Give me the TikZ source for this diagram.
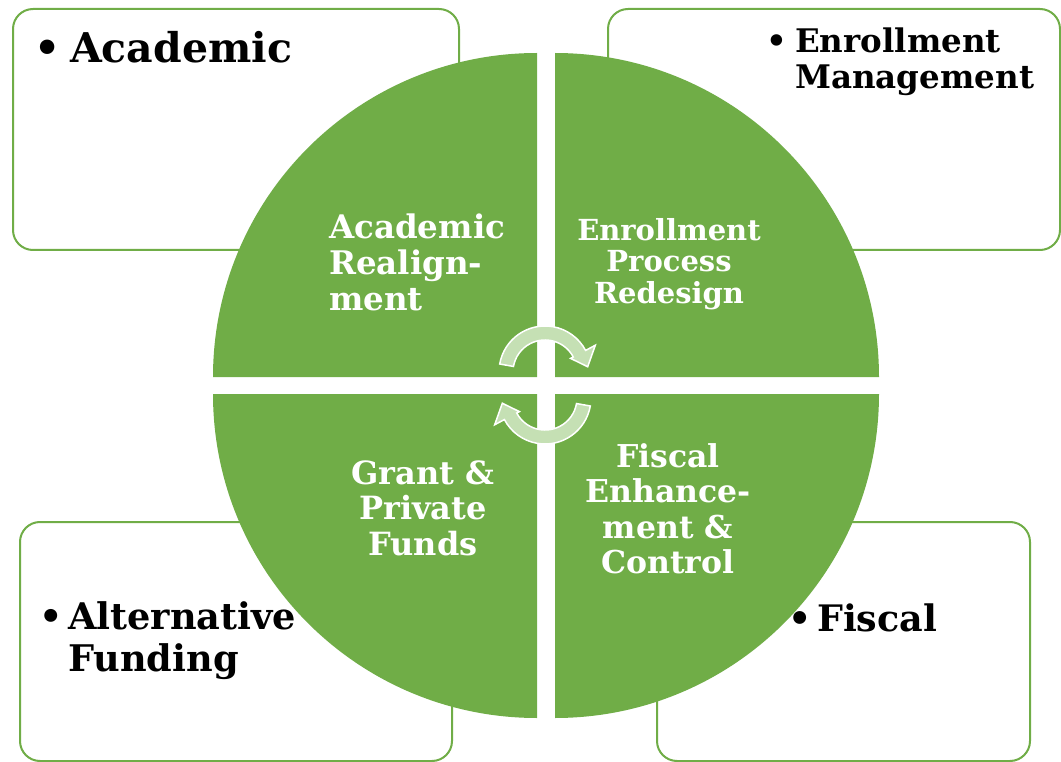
\documentclass[tikz,border=0pt]{standalone}
\usepackage{fontspec}
\setmainfont{DejaVu Serif}
\definecolor{qgreen}{HTML}{70AD47}
\definecolor{agreen}{HTML}{C5E0B4}
\newcommand{\fs}[2]{\fontsize{#1pt}{#2pt}\selectfont\bfseries}
\newcommand{\bul}[1]{\makebox[#1pt][l]{\textbullet}}
\begin{document}
\begin{tikzpicture}[x=1pt,y=1pt,
  box/.style={draw=qgreen,line width=2pt,rounded corners=20pt,fill=white},
  quad/.style={fill=qgreen},
  qtext/.style={text=white,inner sep=0pt,align=center},
  btext/.style={text=black,inner sep=0pt,align=left,anchor=west},
  cyc/.style={fill=agreen,draw=white,line width=1.5pt,line join=miter}]
\useasboundingbox (0,-762) rectangle (1061,0);
% outer boxes
\draw[box] (13,-9) rectangle (459,-250);
\draw[box] (608,-9) rectangle (1060,-250);
\draw[box] (20,-522) rectangle (452,-761);
\draw[box] (657,-522) rectangle (1030,-761);
\node[btext,font={\fs{41}{46}}] (tA) at (34,-47) {\bul{36}Academic};
\node[btext,font={\fs{32.5}{35.5}}] (tE) at (766,-62) {\bul{29}Enrollment\\\hspace*{29pt}Management};
\node[btext,font={\fs{36.7}{42}}] (tF) at (39,-641) {\bul{29}Alternative\\\hspace*{29pt}Funding};
\node[btext,font={\fs{36.5}{42}}] (tS) at (788,-618) {\bul{29}Fiscal};
% quadrants
\fill[quad] (537,-377) -- (537,-53) arc[start angle=90,end angle=180,radius=324] -- cycle;
\fill[quad] (555,-377) -- (879,-377) arc[start angle=0,end angle=90,radius=324] -- cycle;
\fill[quad] (537,-394) -- (213,-394) arc[start angle=180,end angle=270,radius=324] -- cycle;
\fill[quad] (555,-394) -- (555,-718) arc[start angle=270,end angle=360,radius=324] -- cycle;
\node[qtext,align=left,anchor=west,font={\fs{32.5}{36}}] (q1) at (329,-262) {Academic\\Realign-\\ment};
\node[qtext,font={\fs{29}{31.5}}] (q2) at (669,-264) {Enrollment\\Process\\Redesign};
\node[qtext,font={\fs{32}{35.5}}] (q3) at (423,-508) {Grant \&\\Private\\Funds};
\node[qtext,font={\fs{31.5}{35.5}}] (q4) at (668,-509) {Fiscal\\Enhance-\\ment \&\\Control};
% cycle arrows
\draw[cyc,shift={(545,-372)}] (170:46) arc[start angle=170,end angle=28,radius=46] -- (28:57) -- (7:43) -- (28:29) -- (28:32) arc[start angle=28,end angle=170,radius=32] -- cycle;
\draw[cyc,shift={(545,-398)}] (350:46) arc[start angle=350,end angle=208,radius=46] -- (208:57) -- (187:43) -- (208:29) -- (208:32) arc[start angle=208,end angle=350,radius=32] -- cycle;
\end{tikzpicture}
\end{document}
